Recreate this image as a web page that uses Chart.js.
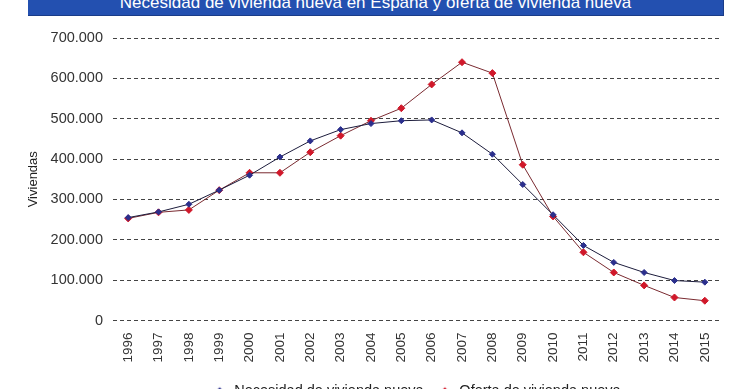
<!DOCTYPE html>
<html>
<head>
<meta charset="utf-8">
<script src="https://cdn.jsdelivr.net/npm/chart.js@4/dist/chart.umd.min.js"></script>
<style>
  html, body { margin: 0; padding: 0; background: #fff; overflow: hidden; }
  #wrap { position: relative; width: 740px; height: 389px; overflow: hidden; }
  #titleBar {
    position: absolute; left: 28px; top: 0; width: 695px; height: 15px;
    background: #2350b0; border-right: 1px solid #1a3c88; border-bottom: 1px solid #1a3c88;
    overflow: hidden;
  }
  #titleBar span {
    position: absolute; left: 0; right: 0; top: -7px; text-align: center;
    color: #fff; font: 17px "Liberation Sans", Arial, sans-serif; white-space: nowrap;
  }
  #chartBox { position: absolute; left: 0; top: 0; width: 740px; height: 408px; }
</style>
</head>
<body>
<div id="wrap">
  <div id="chartBox"><canvas id="chart"></canvas></div>
  <div id="titleBar"><span>Necesidad de vivienda nueva en España y oferta de vivienda nueva</span></div>
</div>
<script>
// datos
const years = ['1996', '1997', '1998', '1999', '2000', '2001', '2002', '2003', '2004', '2005',
  '2006', '2007', '2008', '2009', '2010', '2011', '2012', '2013', '2014', '2015']
const necesidad = [255000, 269000, 288000, 323000, 360000, 405000, 445000, 473000, 488000, 495000,
  497000, 465000, 412000, 337000, 262000, 186000, 144000, 119000, 99000, 95000]
const oferta = [253000, 268000, 274000, 323000, 366000, 366000, 417000, 458000, 495000, 526000,
  585000, 640000, 613000, 386000, 258000, 169000, 119000, 87000, 57000, 49000]
const yTicks = [0, 100000, 200000, 300000, 400000, 500000, 600000, 700000]

const fontFamily = '"Liberation Sans", Arial, sans-serif'

function formatMiles(v) {
  return String(v).replace(/\B(?=(\d{3})+(?!\d))/g, '.')
}

// simbolo de leyenda: linea con rombo, como en Excel
function legendSymbol(lineColor, markColor) {
  const c = document.createElement('canvas')
  c.width = 28
  c.height = 10
  const g = c.getContext('2d')
  g.strokeStyle = lineColor
  g.lineWidth = 1
  g.beginPath()
  g.moveTo(0, 5.5)
  g.lineTo(28, 5.5)
  g.stroke()
  g.fillStyle = markColor
  g.beginPath()
  g.moveTo(14, 1.5)
  g.lineTo(18, 5.5)
  g.lineTo(14, 9.5)
  g.lineTo(10, 5.5)
  g.closePath()
  g.fill()
  return c
}

const ctx = document.getElementById('chart').getContext('2d')

new Chart(ctx, {
  type: 'line',
  data: {
    labels: years,
    datasets: [
      {
        label: 'Necesidad de vivienda nueva',
        data: necesidad,
        borderColor: '#1c1c3c',
        backgroundColor: '#2b2f8c',
        pointBackgroundColor: '#2b2f8c',
        pointBorderColor: '#2b2f8c',
        pointStyle: 'rectRot',
        pointRadius: 3,
        borderWidth: 1,
        tension: 0
      },
      {
        label: 'Oferta de vivienda nueva',
        data: oferta,
        borderColor: '#7a2a30',
        backgroundColor: '#d0182a',
        pointBackgroundColor: '#d0182a',
        pointBorderColor: '#d0182a',
        pointStyle: 'rectRot',
        pointRadius: 3.5,
        borderWidth: 1,
        tension: 0
      }
    ]
  },
  options: {
    responsive: true,
    maintainAspectRatio: false,
    animation: false,
    layout: {
      padding: { top: 38, right: 20, left: 0, bottom: 0 }
    },
    plugins: {
      legend: {
        position: 'bottom',
        fullSize: false,
        labels: {
          usePointStyle: true,
          padding: 14,
          color: '#222',
          font: { family: fontFamily, size: 14.5 },
          generateLabels: chart => chart.data.datasets.map((ds, i) => ({
            text: ds.label,
            fontColor: '#222',
            pointStyle: legendSymbol(ds.borderColor, ds.pointBackgroundColor),
            datasetIndex: i,
            hidden: false,
            lineWidth: 0
          }))
        }
      },
      tooltip: { enabled: false }
    },
    scales: {
      x: {
        offset: true,
        grid: { display: false },
        border: { display: false },
        ticks: {
          minRotation: 90,
          maxRotation: 90,
          padding: 4,
          color: '#333',
          font: { family: fontFamily, size: 13.5 }
        },
        afterFit: scale => { scale.height = 49 }
      },
      y: {
        min: 0,
        max: 700000,
        afterBuildTicks: scale => { scale.ticks = yTicks.map(v => ({ value: v })) },
        grid: {
          color: '#444',
          lineWidth: 1,
          drawTicks: false
        },
        border: { display: false, dash: [4, 3] },
        ticks: {
          padding: 10,
          color: '#333',
          font: { family: fontFamily, size: 14.5 },
          callback: v => formatMiles(v)
        },
        title: {
          display: true,
          text: 'Viviendas',
          color: '#222',
          padding: { top: 26, bottom: 0 },
          font: { family: fontFamily, size: 13 }
        },
        afterFit: scale => { scale.width = 113 }
      }
    }
  }
})
</script>
</body>
</html>
